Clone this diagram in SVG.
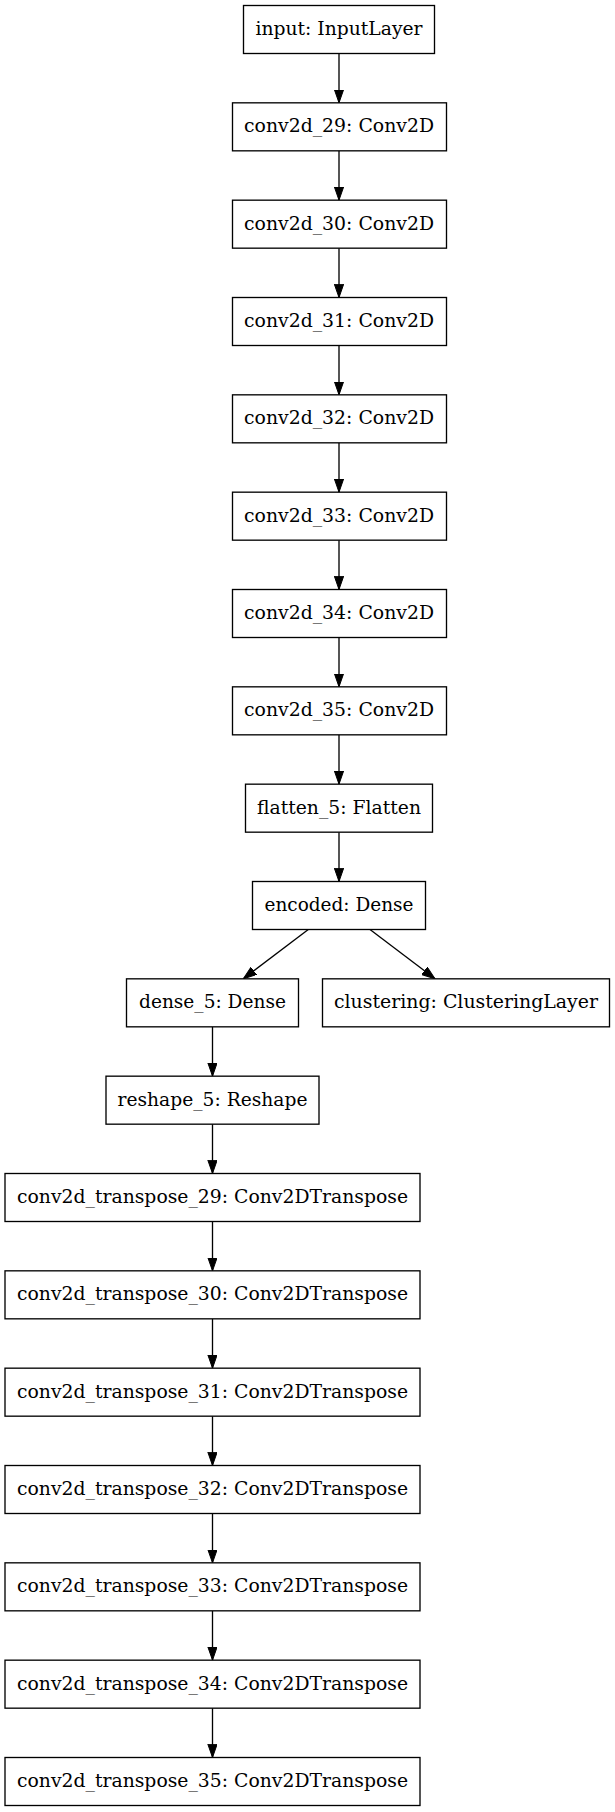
<svg xmlns="http://www.w3.org/2000/svg" width="615" height="1812" viewBox="0 0 615 1812">
<style>
.n rect{fill:#fff;stroke:#000;stroke-width:1.33}
.n text{font-family:"DejaVu Serif",serif;font-size:19px;fill:#000;text-anchor:middle}
.e path{fill:none;stroke:#000;stroke-width:1.33;marker-end:url(#ah)}
</style>
<defs>
<marker id="ah" markerUnits="userSpaceOnUse" markerWidth="14" markerHeight="10" refX="13.33" refY="4.67" orient="auto">
<path d="M0,0 L13.33,4.67 L0,9.33 z" fill="#000" stroke="#000" stroke-width="1"/>
</marker>
</defs>
<rect width="615" height="1812" fill="#fff"/>
<g class="e" id="connectors">
<path d="M339,53.5 V102.83"/>
<path d="M339,150.83 V200.17"/>
<path d="M339,248.17 V297.5"/>
<path d="M339,345.5 V394.83"/>
<path d="M339,442.83 V492.17"/>
<path d="M339,540.17 V589.5"/>
<path d="M339,637.5 V686.83"/>
<path d="M339,734.83 V784.17"/>
<path d="M339,832.17 V881.5"/>
<path d="M308.3,929.5 L243.3,978.83"/>
<path d="M370,929.5 L435,978.83"/>
<path d="M212.5,1026.83 V1076.17"/>
<path d="M212.5,1124.17 V1173.5"/>
<path d="M212.5,1221.5 V1270.83"/>
<path d="M212.5,1318.83 V1368.17"/>
<path d="M212.5,1416.17 V1465.5"/>
<path d="M212.5,1513.5 V1562.83"/>
<path d="M212.5,1610.83 V1660.17"/>
<path d="M212.5,1708.17 V1757.5"/>
</g>
<g class="n" id="input"><rect x="243.5" y="5.5" width="191" height="48"/><text x="339" y="35" textLength="167" lengthAdjust="spacingAndGlyphs">input: InputLayer</text></g>
<g class="n" id="conv2d_29"><rect x="232.5" y="102.83" width="214" height="48"/><text x="339" y="132.33" textLength="190" lengthAdjust="spacingAndGlyphs">conv2d_29: Conv2D</text></g>
<g class="n" id="conv2d_30"><rect x="232.5" y="200.17" width="214" height="48"/><text x="339" y="229.67" textLength="190" lengthAdjust="spacingAndGlyphs">conv2d_30: Conv2D</text></g>
<g class="n" id="conv2d_31"><rect x="232.5" y="297.5" width="214" height="48"/><text x="339" y="327" textLength="190" lengthAdjust="spacingAndGlyphs">conv2d_31: Conv2D</text></g>
<g class="n" id="conv2d_32"><rect x="232.5" y="394.83" width="214" height="48"/><text x="339" y="424.33" textLength="190" lengthAdjust="spacingAndGlyphs">conv2d_32: Conv2D</text></g>
<g class="n" id="conv2d_33"><rect x="232.5" y="492.17" width="214" height="48"/><text x="339" y="521.67" textLength="190" lengthAdjust="spacingAndGlyphs">conv2d_33: Conv2D</text></g>
<g class="n" id="conv2d_34"><rect x="232.5" y="589.5" width="214" height="48"/><text x="339" y="619" textLength="190" lengthAdjust="spacingAndGlyphs">conv2d_34: Conv2D</text></g>
<g class="n" id="conv2d_35"><rect x="232.5" y="686.83" width="214" height="48"/><text x="339" y="716.33" textLength="190" lengthAdjust="spacingAndGlyphs">conv2d_35: Conv2D</text></g>
<g class="n" id="flatten_5"><rect x="245.5" y="784.17" width="187" height="48"/><text x="339" y="813.67" textLength="164" lengthAdjust="spacingAndGlyphs">flatten_5: Flatten</text></g>
<g class="n" id="encoded"><rect x="252.5" y="881.5" width="173" height="48"/><text x="339" y="911" textLength="149" lengthAdjust="spacingAndGlyphs">encoded: Dense</text></g>
<g class="n" id="dense_5"><rect x="126.5" y="978.83" width="172" height="48"/><text x="212.5" y="1008.33" textLength="147" lengthAdjust="spacingAndGlyphs">dense_5: Dense</text></g>
<g class="n" id="clustering"><rect x="322.5" y="978.83" width="287" height="48"/><text x="466" y="1008.33" textLength="264" lengthAdjust="spacingAndGlyphs">clustering: ClusteringLayer</text></g>
<g class="n" id="reshape_5"><rect x="106" y="1076.17" width="213" height="48"/><text x="212.5" y="1105.67" textLength="190" lengthAdjust="spacingAndGlyphs">reshape_5: Reshape</text></g>
<g class="n" id="conv2d_transpose_29"><rect x="5" y="1173.5" width="415" height="48"/><text x="212.5" y="1203" textLength="391" lengthAdjust="spacingAndGlyphs">conv2d_transpose_29: Conv2DTranspose</text></g>
<g class="n" id="conv2d_transpose_30"><rect x="5" y="1270.83" width="415" height="48"/><text x="212.5" y="1300.33" textLength="391" lengthAdjust="spacingAndGlyphs">conv2d_transpose_30: Conv2DTranspose</text></g>
<g class="n" id="conv2d_transpose_31"><rect x="5" y="1368.17" width="415" height="48"/><text x="212.5" y="1397.67" textLength="391" lengthAdjust="spacingAndGlyphs">conv2d_transpose_31: Conv2DTranspose</text></g>
<g class="n" id="conv2d_transpose_32"><rect x="5" y="1465.5" width="415" height="48"/><text x="212.5" y="1495" textLength="391" lengthAdjust="spacingAndGlyphs">conv2d_transpose_32: Conv2DTranspose</text></g>
<g class="n" id="conv2d_transpose_33"><rect x="5" y="1562.83" width="415" height="48"/><text x="212.5" y="1592.33" textLength="391" lengthAdjust="spacingAndGlyphs">conv2d_transpose_33: Conv2DTranspose</text></g>
<g class="n" id="conv2d_transpose_34"><rect x="5" y="1660.17" width="415" height="48"/><text x="212.5" y="1689.67" textLength="391" lengthAdjust="spacingAndGlyphs">conv2d_transpose_34: Conv2DTranspose</text></g>
<g class="n" id="conv2d_transpose_35"><rect x="5" y="1757.5" width="415" height="48"/><text x="212.5" y="1787" textLength="391" lengthAdjust="spacingAndGlyphs">conv2d_transpose_35: Conv2DTranspose</text></g>
</svg>
